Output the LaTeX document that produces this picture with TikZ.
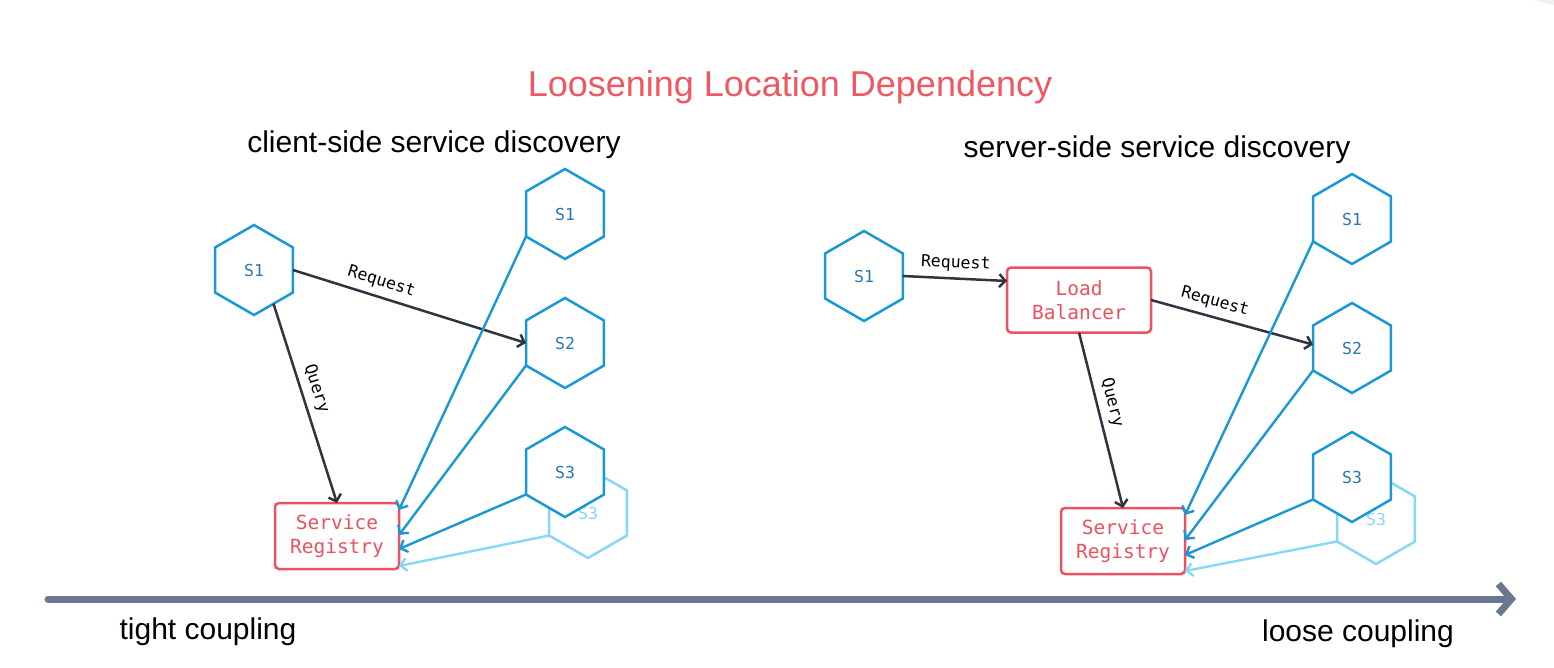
\documentclass[tikz,border=0pt]{standalone}
\usepackage{fontspec}
\setmainfont{Liberation Sans}
\newfontfamily\monofont{DejaVu Sans Mono}
\usepackage{tikz}
\usetikzlibrary{shapes.geometric, arrows.meta, positioning}
\definecolor{ldblue}{HTML}{1A98D5}
\definecolor{ldtext}{HTML}{2A78AD}
\definecolor{ldfaint}{HTML}{88D6F8}
\definecolor{ldred}{HTML}{EB5160}
\definecolor{ldtitle}{HTML}{EF5863}
\definecolor{lddark}{HTML}{2F3440}
\definecolor{ldaxis}{HTML}{6B7690}
\definecolor{ldcorner}{HTML}{EDF0F5}

\begin{document}
\begin{tikzpicture}[
  x=1pt, y=-1pt,
  node distance=39pt,
  hexnode/.style={regular polygon, regular polygon sides=6, shape border rotate=30,
    minimum size=90pt, inner sep=0pt, outer sep=0pt, draw=ldblue, line width=2.5pt,
    fill=white, text=ldtext, font=\monofont\fontsize{16.5}{18}\selectfont},
  ghost/.style={hexnode, draw=ldfaint, text=ldfaint, fill=none},
  regbox/.style={rectangle, rounded corners=4pt, draw=ldred, line width=2.5pt, fill=white,
    text=ldred, align=center, inner sep=0pt, outer sep=0pt, minimum width=124pt,
    minimum height=66pt, font=\monofont\fontsize{19.5}{24}\selectfont},
  callarrow/.style={-{Straight Barb[length=6pt, width=13pt]}, line width=2.5pt, draw=lddark},
  lookup/.style={-{Straight Barb[length=6pt, width=13pt]}, line width=2.4pt, draw=ldblue},
  tag/.style={font=\monofont\fontsize{16.5}{18}\selectfont, text=black, sloped, above=5pt, inner sep=1pt},
  heading/.style={anchor=base, font=\fontsize{30}{34}\selectfont, text=black},
  axis/.style={-{Straight Barb[length=13pt, width=30pt]}, line width=7pt, line cap=round,
    line join=round, draw=ldaxis}
]
\useasboundingbox (0,0) rectangle (1554,668);
\fill[ldcorner] (1532,0) -- (1554,0) -- (1554,5) -- cycle;

% titles
\node[anchor=base, font=\fontsize{36}{40}\selectfont, text=ldtitle] (title) at (790,97) {Loosening Location Dependency};
\node[heading] (clienthead) at (434,153) {client-side service discovery};
\node[heading] (serverhead) at (1157,158) {server-side service discovery};

% client-side
\node[hexnode] (cli) at (254,270) {S1};
\node[hexnode] (cS1) at (565,214) {S1};
\node[hexnode, below=of cS1] (cS2) {S2};
\node[ghost] (cS3g) at (588,513) {S3};
\node[hexnode, below=of cS2] (cS3) {S3};
\node[regbox] (cReg) at (337,536) {Service\\Registry};

\draw[callarrow] (cli.east) -- node[tag, pos=0.36] {Request} (cS2.west);
\draw[callarrow] (cli.300) -- node[tag, pos=0.45] {Query} (cReg.north);
\draw[lookup] (cS1.210) -- ([yshift=26pt]cReg.east);
\draw[lookup] (cS2.210) -- ([yshift=1pt]cReg.east);
\draw[lookup] (cS3.210) -- ([yshift=-13pt]cReg.east);
\draw[lookup, draw=ldfaint] (cS3g.210) -- ([yshift=-30pt]cReg.east);

% server-side
\node[hexnode] (srv) at (864,276) {S1};
\node[regbox, minimum width=144pt, minimum height=65pt] (lb) at (1079,300) {Load\\Balancer};
\node[hexnode] (sS1) at (1352,219) {S1};
\node[hexnode, below=of sS1] (sS2) {S2};
\node[ghost] (sS3g) at (1376,519) {S3};
\node[hexnode, below=of sS2] (sS3) {S3};
\node[regbox] (sReg) at (1123,541) {Service\\Registry};

\draw[callarrow] (srv.east) -- node[tag] {Request} ([yshift=19pt]lb.west);
\draw[callarrow] (lb.east) -- node[tag, pos=0.37] {Request} (sS2.175);
\draw[callarrow] (lb.south) -- node[tag, pos=0.42] {Query} (sReg.north);
\draw[lookup] (sS1.210) -- ([yshift=26pt]sReg.east);
\draw[lookup] (sS2.210) -- ([yshift=1pt]sReg.east);
\draw[lookup] (sS3.210) -- ([yshift=-14pt]sReg.east);
\draw[lookup, draw=ldfaint] (sS3g.210) -- ([yshift=-30pt]sReg.east);

% coupling axis
\coordinate (axstart) at (48,599);
\coordinate (axend) at (1516,599);
\draw[axis] (axstart) -- (axend);
\node[heading] (tight) at (208,639) {tight coupling};
\node[heading] (loose) at (1358,641) {loose coupling};
\end{tikzpicture}
\end{document}
